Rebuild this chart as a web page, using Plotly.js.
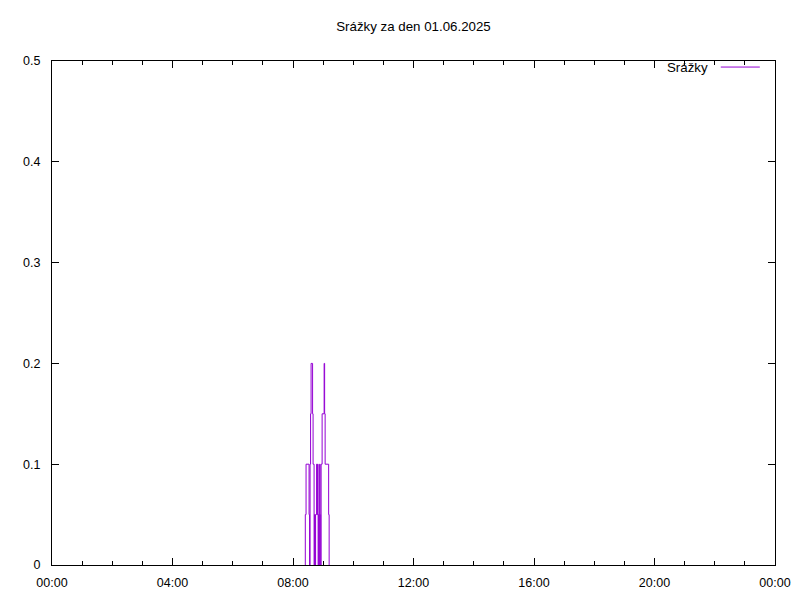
<!DOCTYPE html>
<html>
<head>
<meta charset="utf-8">
<script src="https://cdn.plot.ly/plotly-3.0.1.min.js"></script>
<style>html,body{margin:0;padding:0;background:#fff;}#chart{width:800px;height:600px;}</style>
</head>
<body>
<div id="chart"></div>
<script>
const chartTitle = "Srážky za den 01.06.2025";
const seriesName = "Srážky";
const times = [
  "2025-06-01 08:24","2025-06-01 08:24:30","2025-06-01 08:26","2025-06-01 08:32","2025-06-01 08:33",
  "2025-06-01 08:34","2025-06-01 08:35","2025-06-01 08:36","2025-06-01 08:39","2025-06-01 08:40",
  "2025-06-01 08:42","2025-06-01 08:43","2025-06-01 08:44","2025-06-01 08:45","2025-06-01 08:47",
  "2025-06-01 08:48","2025-06-01 08:49","2025-06-01 08:50","2025-06-01 08:51","2025-06-01 08:52",
  "2025-06-01 08:53","2025-06-01 08:54","2025-06-01 08:55","2025-06-01 08:56","2025-06-01 08:58",
  "2025-06-01 09:02","2025-06-01 09:03","2025-06-01 09:04","2025-06-01 09:11","2025-06-01 09:12"
];
const values = [
  0, 0.05, 0.1, 0.05, 0,
  0.1, 0.15, 0.2, 0.15, 0.1,
  0, 0.05, 0, 0.05, 0.1,
  0.05, 0.1, 0, 0.05, 0,
  0.1, 0.05, 0, 0.1, 0.15,
  0.2, 0.15, 0.1, 0.05, 0
];
const xTickVals = ["2025-06-01 00:00","2025-06-01 04:00","2025-06-01 08:00","2025-06-01 12:00","2025-06-01 16:00","2025-06-01 20:00","2025-06-02 00:00"];
const xTickText = ["00:00","04:00","08:00","12:00","16:00","20:00","00:00"];
const yTickVals = [0, 0.1, 0.2, 0.3, 0.4, 0.5];
const yTickText = ["0","0.1","0.2","0.3","0.4","0.5"];

const purple = "rgb(148,0,211)";
const font = {family: "Liberation Sans, Arial, sans-serif", size: 12.5, color: "#000"};
const bigFont = {family: "Liberation Sans, Arial, sans-serif", size: 13.3, color: "#000"};

const trace = {
  x: times, y: values, type: "scatter", mode: "lines",
  line: {shape: "hv", color: purple, width: 1},
  name: seriesName, showlegend: false, hoverinfo: "skip"
};

const layout = {
  width: 800, height: 600,
  margin: {l: 52, r: 25, t: 61, b: 35},
  paper_bgcolor: "#fff", plot_bgcolor: "#fff",
  font: font,
  showlegend: false,
  title: {text: chartTitle, font: bigFont, xref: "paper", x: 0.5, xanchor: "center", yref: "container", y: 1 - 26.5/600, yanchor: "middle"},
  xaxis: {
    type: "date", range: ["2025-06-01 00:00", "2025-06-02 00:00"],
    tickmode: "array", tickvals: xTickVals, ticktext: xTickText,
    ticks: "inside", ticklen: 7, tickcolor: "#000", tickwidth: 1,
    minor: {dtick: 3600000, tick0: "2025-06-01 00:00", ticks: "inside", ticklen: 4, tickcolor: "#000", showgrid: false},
    showline: true, linecolor: "#000", linewidth: 1, mirror: "ticks",
    showgrid: false, zeroline: false, tickfont: font, fixedrange: true,
    ticklabelstandoff: 6
  },
  yaxis: {
    range: [0, 0.5], tickmode: "array", tickvals: yTickVals, ticktext: yTickText,
    ticks: "inside", ticklen: 7, tickcolor: "#000", tickwidth: 1,
    showline: true, linecolor: "#000", linewidth: 1, mirror: "ticks",
    showgrid: false, zeroline: false, tickfont: font, fixedrange: true,
    ticklabelstandoff: 8
  },
  annotations: [{
    text: seriesName, xref: "paper", yref: "paper", x: 0.910, y: 0.988,
    xanchor: "right", yanchor: "middle", showarrow: false, font: bigFont
  }],
  shapes: [{
    type: "line", layer: "above", xref: "paper", yref: "paper", x0: 0.925, x1: 0.979, y0: 0.988, y1: 0.988,
    line: {color: purple, width: 1}
  }]
};

Plotly.newPlot("chart", [trace], layout, {staticPlot: true, displayModeBar: false});
</script>
</body>
</html>
